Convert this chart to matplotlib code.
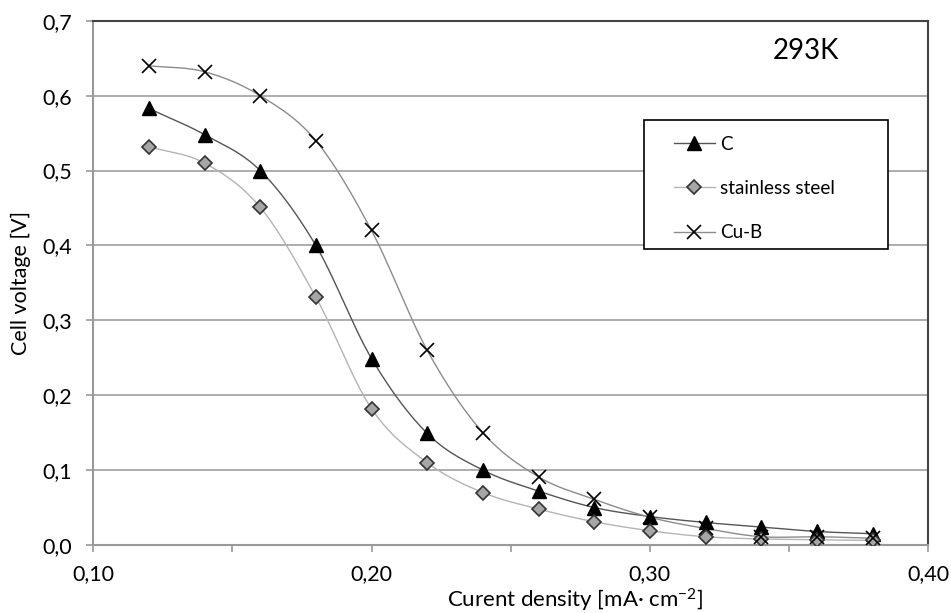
import numpy as np
import matplotlib
matplotlib.use("Agg")
import matplotlib.pyplot as plt
from matplotlib.patches import Rectangle
from matplotlib.ticker import MultipleLocator, FuncFormatter

plt.rcParams['font.family'] = ['Lato', 'DejaVu Sans']
plt.rcParams['mathtext.default'] = 'regular'

# current density [mA cm-2]
current = [0.12, 0.14, 0.16, 0.18, 0.20, 0.22, 0.24, 0.26, 0.28, 0.30, 0.32, 0.34, 0.36, 0.38]
v_c = [0.583, 0.548, 0.500, 0.400, 0.249, 0.149, 0.100, 0.072, 0.050, 0.038, 0.030, 0.024, 0.018, 0.015]
v_steel = [0.532, 0.510, 0.451, 0.331, 0.182, 0.110, 0.070, 0.048, 0.031, 0.019, 0.011, 0.008, 0.007, 0.006]
v_cub = [0.640, 0.632, 0.600, 0.540, 0.420, 0.260, 0.150, 0.091, 0.061, 0.037, 0.022, 0.011, 0.011, 0.009]


def smooth(x, y, n=24):
    # catmull-rom like the excel "smoothed line"
    x = np.asarray(x, float)
    y = np.asarray(y, float)
    px = np.concatenate([[2 * x[0] - x[1]], x, [2 * x[-1] - x[-2]]])
    py = np.concatenate([[2 * y[0] - y[1]], y, [2 * y[-1] - y[-2]]])
    xs, ys = [], []
    t = np.linspace(0, 1, n, endpoint=False)
    for i in range(1, len(px) - 2):
        for p, out in ((px, xs), (py, ys)):
            p0, p1, p2, p3 = p[i - 1], p[i], p[i + 1], p[i + 2]
            out.extend(0.5 * (2 * p1 + (-p0 + p2) * t + (2 * p0 - 5 * p1 + 4 * p2 - p3) * t ** 2
                              + (-p0 + 3 * p1 - 3 * p2 + p3) * t ** 3))
    xs.append(x[-1])
    ys.append(y[-1])
    return xs, ys


fig = plt.figure(figsize=(9.51, 6.13), dpi=100)
ax = fig.add_axes([0.098, 0.111, 0.878, 0.855])

series = [
    (v_c, "C", '#555555', dict(marker='^', ms=10, mfc='black', mec='black')),
    (v_steel, "stainless steel", '#b4b4b4', dict(marker='D', ms=7, mfc='#a6a6a6', mec='#333333', mew=1.2)),
    (v_cub, "Cu-B", '#8c8c8c', dict(marker='x', ms=10, mec='black', mew=1.2)),
]
handles = []
for vals, name, col, mk in series:
    sx, sy = smooth(current, vals)
    ax.plot(sx, sy, color=col, lw=1, zorder=2)
    ax.plot(current, vals, ls='none', zorder=3, **mk)
    h, = ax.plot([], [], color=col, lw=1, label=name, **mk)
    handles.append(h)

ax.set_xlim(0.10, 0.40)
ax.set_ylim(0.0, 0.7)
ax.xaxis.set_major_locator(MultipleLocator(0.05))
ax.yaxis.set_major_locator(MultipleLocator(0.1))


def xfmt(v, pos):
    if round(v * 100) % 10 != 0:
        return ""
    return f"{v:.2f}".replace(".", ",")


ax.xaxis.set_major_formatter(FuncFormatter(xfmt))
ax.yaxis.set_major_formatter(FuncFormatter(lambda v, p: f"{v:.1f}".replace(".", ",")))
ax.tick_params(labelsize=15.5, color='#999999', length=5, width=1.2)
ax.tick_params(axis='x', pad=9)
ax.tick_params(axis='y', pad=10)

ax.grid(axis='y', color='#a0a0a0', lw=1.2)
ax.set_axisbelow(True)
for s in ['left', 'bottom']:
    ax.spines[s].set_color('#999999')
    ax.spines[s].set_linewidth(1.5)
for s in ['top', 'right']:
    ax.spines[s].set_color('#444444')
    ax.spines[s].set_linewidth(1.5)

ax.set_xlabel("Curent density [mA\u00b7 cm$^{-2}$]", fontsize=16)
ax.xaxis.set_label_coords(0.577, -0.080)
ax.set_ylabel("Cell voltage [V]", fontsize=15.5)
ax.yaxis.set_label_coords(-0.075, 0.5)

ax.text(0.854, 0.943, "293K", transform=ax.transAxes, fontsize=20, ha='center', va='center')

# legend frame drawn separately so the entries sit inset like the original
ax.add_patch(Rectangle((0.66, 0.565), 0.292, 0.246, transform=ax.transAxes,
                       facecolor='white', edgecolor='black', lw=1.2, zorder=4))
leg = ax.legend(handles=handles, loc='upper left', bbox_to_anchor=(0.695, 0.781),
                fontsize=13.6, frameon=False, handlelength=2.2, handletextpad=0.25,
                labelspacing=1.45, borderpad=0, borderaxespad=0)
leg.set_zorder(5)

fig.savefig("out.png", dpi=100)
